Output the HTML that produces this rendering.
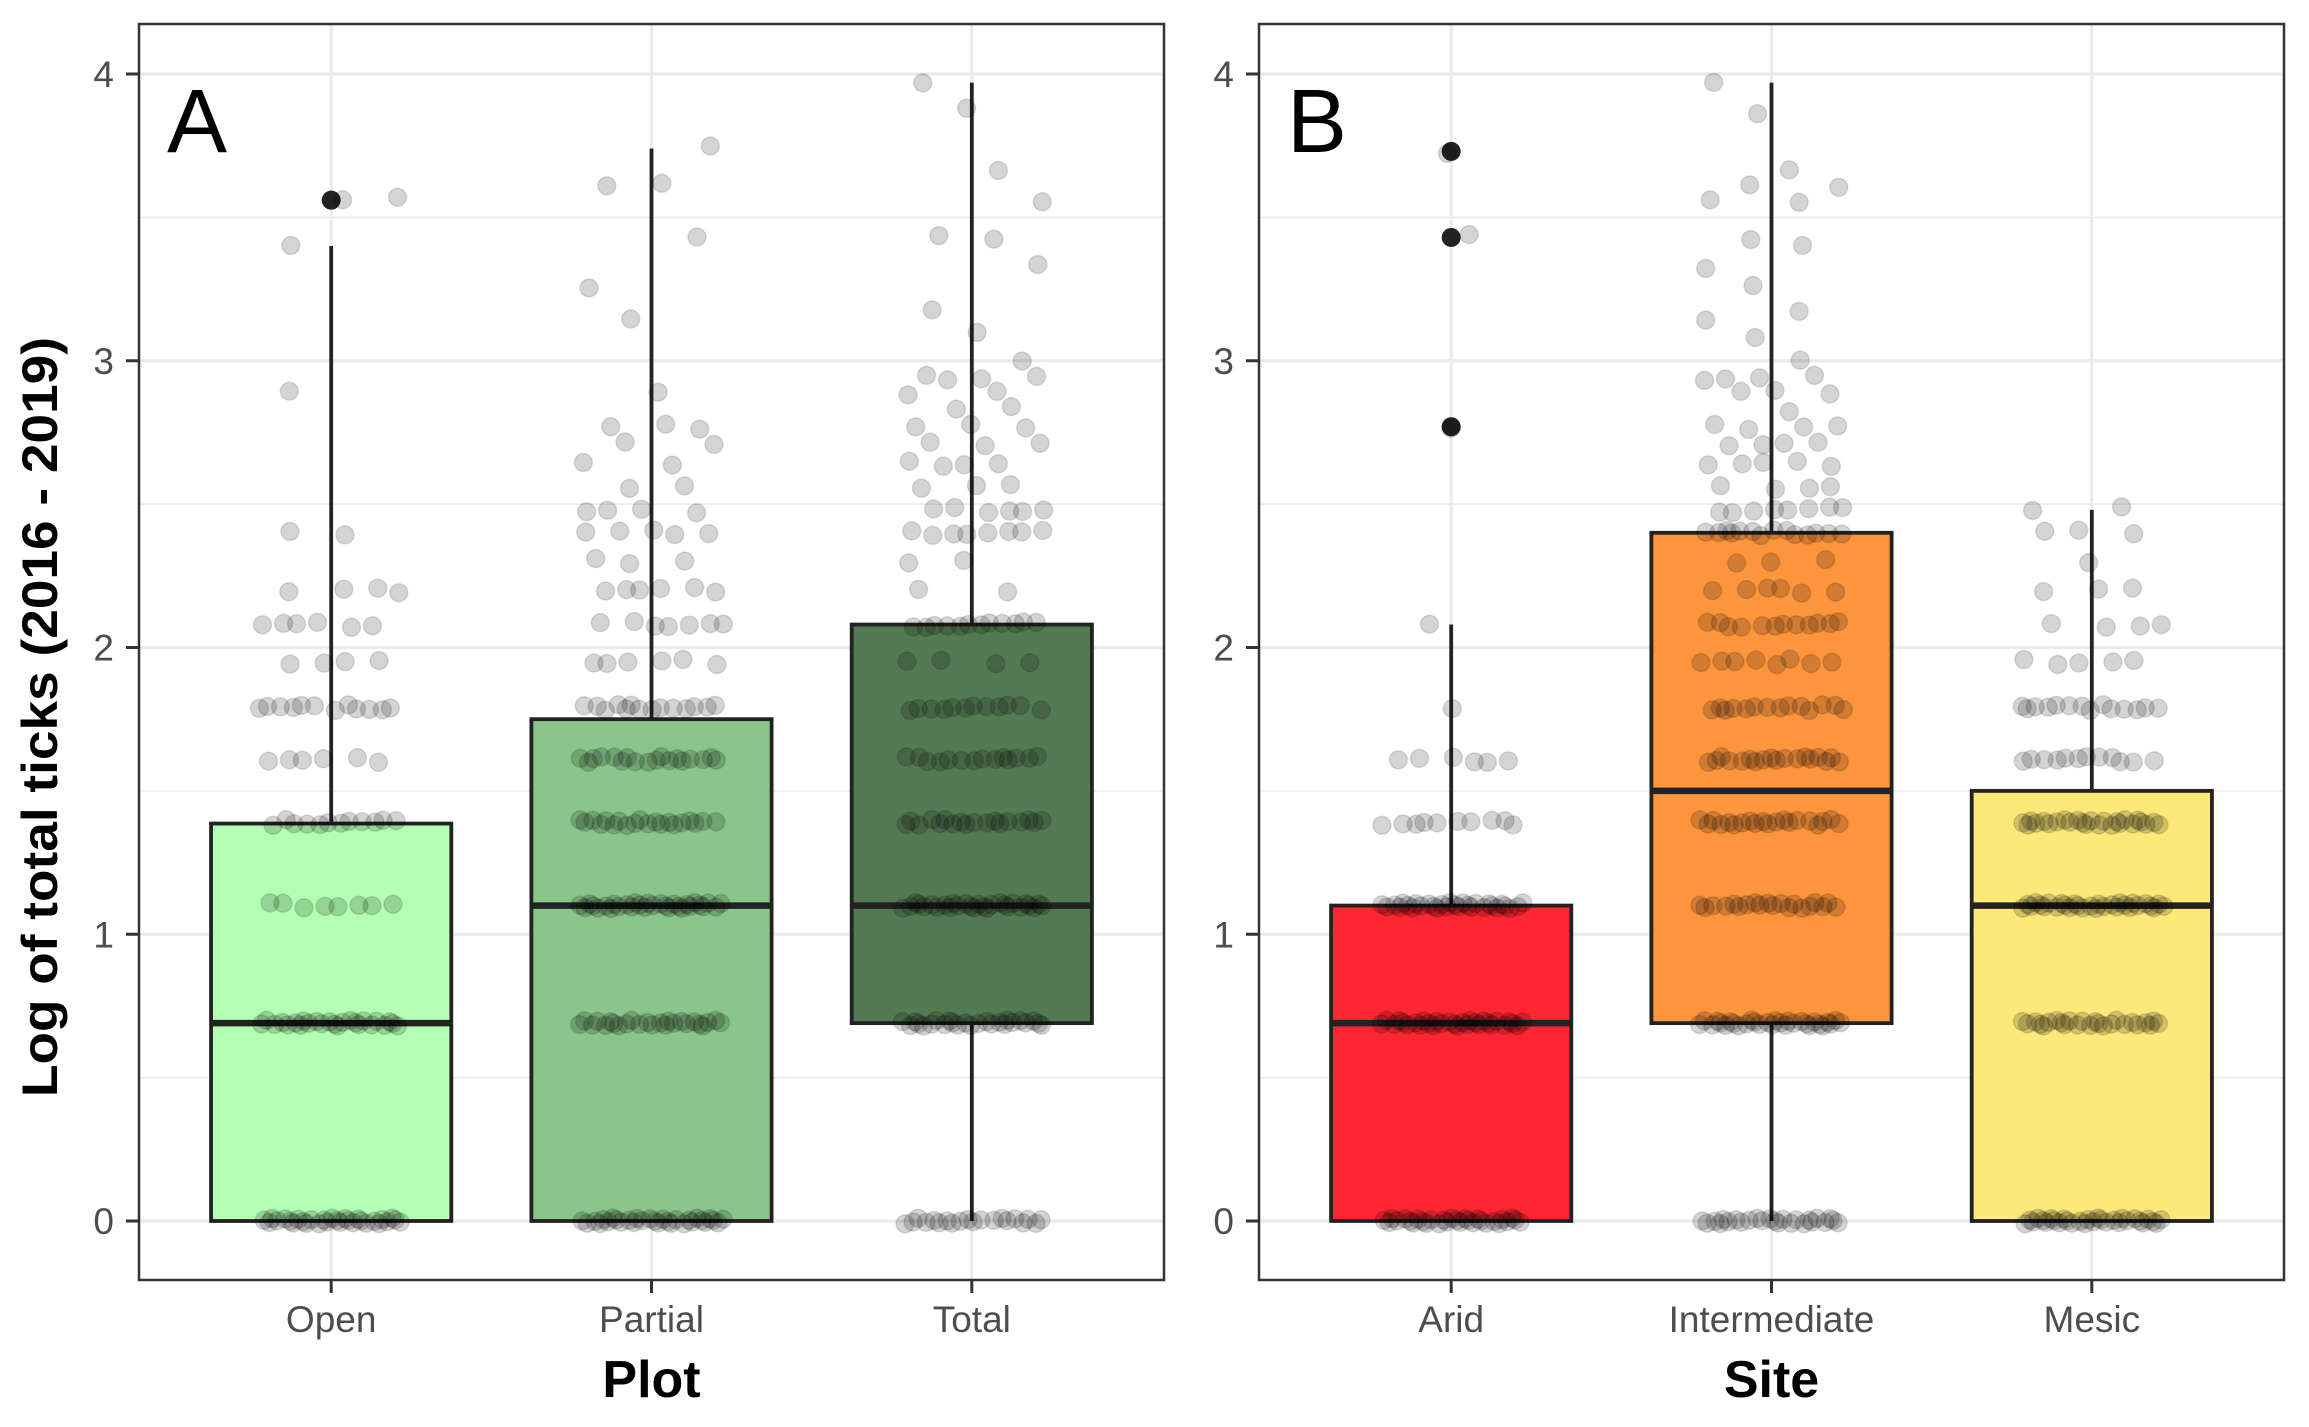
<!DOCTYPE html>
<html><head><meta charset="utf-8"><style>
html,body{margin:0;padding:0;background:#fff;}
svg{display:block;font-family:"Liberation Sans",Arial,sans-serif;}
</style></head><body>
<svg id="chart" width="2309" height="1427" viewBox="0 0 2309 1427" xmlns="http://www.w3.org/2000/svg"></svg>
<script>
// ---- data ----
const plotCategories = ["Open","Partial","Total"];
const siteCategories = ["Arid","Intermediate","Mesic"];
const plotColors = ["#b3ffb3","#8ac68a","#537a53"];
const siteColors = ["#fe2633","#fd953d","#fee87a"];
// [lowerWhisker, q1, median, q3, upperWhisker]
const plotStats = [[0,0,0.69,1.386,3.40],[0,0,1.10,1.75,3.74],[0,0.69,1.10,2.08,3.97]];
const siteStats = [[0,0,0.69,1.10,2.08],[0,0.69,1.50,2.40,3.97],[0,0,1.10,1.50,2.48]];
const plotOutliers = [[3.56],[],[]];
const siteOutliers = [[2.77,3.43,3.73],[],[]];
const yTicks = [0,1,2,3,4];
// jittered observations: [value, count]
const pointsOpen = [[0,30],[0.69,25],[1.10,8],[1.39,12],[1.61,6],[1.79,12],[1.95,4],[2.08,6],[2.20,4],[2.40,2],[2.89,1],[3.40,1],[3.56,2]];
const pointsPartial = [[0,30],[0.69,25],[1.10,30],[1.39,20],[1.61,18],[1.79,14],[1.95,6],[2.08,7],[2.20,6],[2.30,3],[2.40,5],[2.48,4],[2.56,2],[2.64,2],[2.71,2],[2.77,3],[2.89,1],[3.14,1],[3.26,1],[3.43,1],[3.61,2],[3.74,1]];
const pointsTotal = [[0,20],[0.69,25],[1.10,28],[1.39,18],[1.61,14],[1.79,12],[1.95,4],[2.08,12],[2.20,2],[2.30,2],[2.40,8],[2.48,6],[2.56,3],[2.64,4],[2.71,3],[2.77,3],[2.83,2],[2.89,2],[2.94,4],[3.0,1],[3.09,1],[3.18,1],[3.33,1],[3.43,2],[3.56,1],[3.66,1],[3.87,1],[3.97,1]];
const pointsArid = [[0,30],[0.69,30],[1.10,30],[1.39,10],[1.61,6],[1.79,1],[2.08,1],[2.77,1],[3.43,1],[3.73,1]];
const pointsIntermediate = [[0,25],[0.69,30],[1.10,20],[1.39,20],[1.61,18],[1.79,14],[1.95,8],[2.08,12],[2.20,6],[2.30,3],[2.40,14],[2.48,8],[2.56,4],[2.64,5],[2.71,4],[2.77,4],[2.83,1],[2.89,3],[2.94,4],[3.0,1],[3.09,1],[3.14,1],[3.18,1],[3.26,1],[3.33,1],[3.40,1],[3.43,1],[3.56,2],[3.61,2],[3.66,1],[3.87,1],[3.97,1]];
const pointsMesic = [[0,30],[0.69,25],[1.10,30],[1.39,25],[1.61,12],[1.79,14],[1.95,5],[2.08,4],[2.20,3],[2.30,1],[2.40,3],[2.48,2]];

const NS="http://www.w3.org/2000/svg";
const svg=document.getElementById('chart');
function mk(tag,attrs,parent){const e=document.createElementNS(NS,tag);for(const k in attrs)e.setAttribute(k,attrs[k]);(parent||svg).appendChild(e);return e;}
const Y0=1221, UNIT=286.75;
function yScale(v){return Y0-v*UNIT;}
const TOP=24,BOTTOM=1280,PW=1025;

function panel(left,cats,colors,stats,outs,pts,letter,xtitle,pname){
  const g=mk('g',{});
  
  
  const step=PW/3.2;
  const xScale=i=>left+PW*(0.6+i)/3.2;
  [0.5,1.5,2.5,3.5].forEach(v=>{const l=mk('line',{x1:left,x2:left+PW,y1:yScale(v),y2:yScale(v),stroke:'#ebebeb','stroke-width':1.6},g);
    });
  yTicks.forEach(v=>{const l=mk('line',{x1:left,x2:left+PW,y1:yScale(v),y2:yScale(v),stroke:'#ebebeb','stroke-width':3.2},g);
    });
  cats.forEach((c,i)=>{const l=mk('line',{x1:xScale(i),x2:xScale(i),y1:TOP,y2:BOTTOM,stroke:'#ebebeb','stroke-width':3.2},g);
    });
  const bw=step*0.75;
  cats.forEach((c,i)=>{
    const s=stats[i],cx=xScale(i);
    const wl=mk('line',{x1:cx,x2:cx,y1:yScale(s[0]),y2:yScale(s[4]),stroke:'#222','stroke-width':3.8},g);
    
    const r=mk('rect',{x:cx-bw/2,y:yScale(s[3]),width:bw,height:yScale(s[1])-yScale(s[3]),fill:colors[i],stroke:'#222','stroke-width':3.8},g);
    
    const m=mk('line',{x1:cx-bw/2,x2:cx+bw/2,y1:yScale(s[2]),y2:yScale(s[2]),stroke:'#222','stroke-width':6.5},g);
    
    outs[i].forEach(v=>{const o=mk('circle',{cx:cx,cy:yScale(v),r:9.5,fill:'#222'},g);
      });
  });
  pts.forEach((arr,i)=>{
    const cx=xScale(i);let k=0;
    arr.forEach(([v,n])=>{
      for(let j=0;j<n;j++){k++;
        const fx=((k*0.6180339+i*0.31+v*0.77)%1)*2-1;
        const fy=((k*0.4142136+v*1.3)%1)*2-1;
        const p=mk('circle',{cx:cx+fx*72,cy:yScale(v)+fy*3,r:9,fill:'rgba(0,0,0,0.17)',stroke:'rgba(0,0,0,0.12)','stroke-width':1.5},g);
        
      }
    });
  });
  const b=mk('rect',{x:left,y:TOP,width:PW,height:BOTTOM-TOP,fill:'none',stroke:'#333','stroke-width':2.5},g);
  
  yTicks.forEach(v=>{
    const t=mk('line',{x1:left-13,x2:left,y1:yScale(v),y2:yScale(v),stroke:'#333','stroke-width':3},g);
    
    const tx=mk('text',{x:left-25,y:yScale(v)+13,'text-anchor':'end','font-size':37,fill:'#4d4d4d'},g);
    tx.textContent=v;
    
  });
  cats.forEach((c,i)=>{
    const t=mk('line',{x1:xScale(i),x2:xScale(i),y1:BOTTOM,y2:BOTTOM+13,stroke:'#333','stroke-width':3},g);
    
    const tx=mk('text',{x:xScale(i),y:1332,'text-anchor':'middle','font-size':37,fill:'#4d4d4d'},g);
    tx.textContent=c;
    
  });
  const L=mk('text',{x:left+28,y:152,'font-size':90,fill:'#000'},g);
  L.textContent=letter;
  
  const xt=mk('text',{x:left+PW/2,y:1397,'text-anchor':'middle','font-size':52,'font-weight':'bold',fill:'#000'},g);
  xt.textContent=xtitle;
  
}
panel(139,plotCategories,plotColors,plotStats,plotOutliers,[pointsOpen,pointsPartial,pointsTotal],'A','Plot','panel-a');
panel(1259,siteCategories,siteColors,siteStats,siteOutliers,[pointsArid,pointsIntermediate,pointsMesic],'B','Site','panel-b');
const yt=mk('text',{x:0,y:0,transform:'translate(57,717) rotate(-90)','text-anchor':'middle','font-size':50,'font-weight':'bold',fill:'#000',textLength:760,lengthAdjust:'spacingAndGlyphs'});
yt.textContent='Log of total ticks (2016 - 2019)';


</script>
</body></html>
